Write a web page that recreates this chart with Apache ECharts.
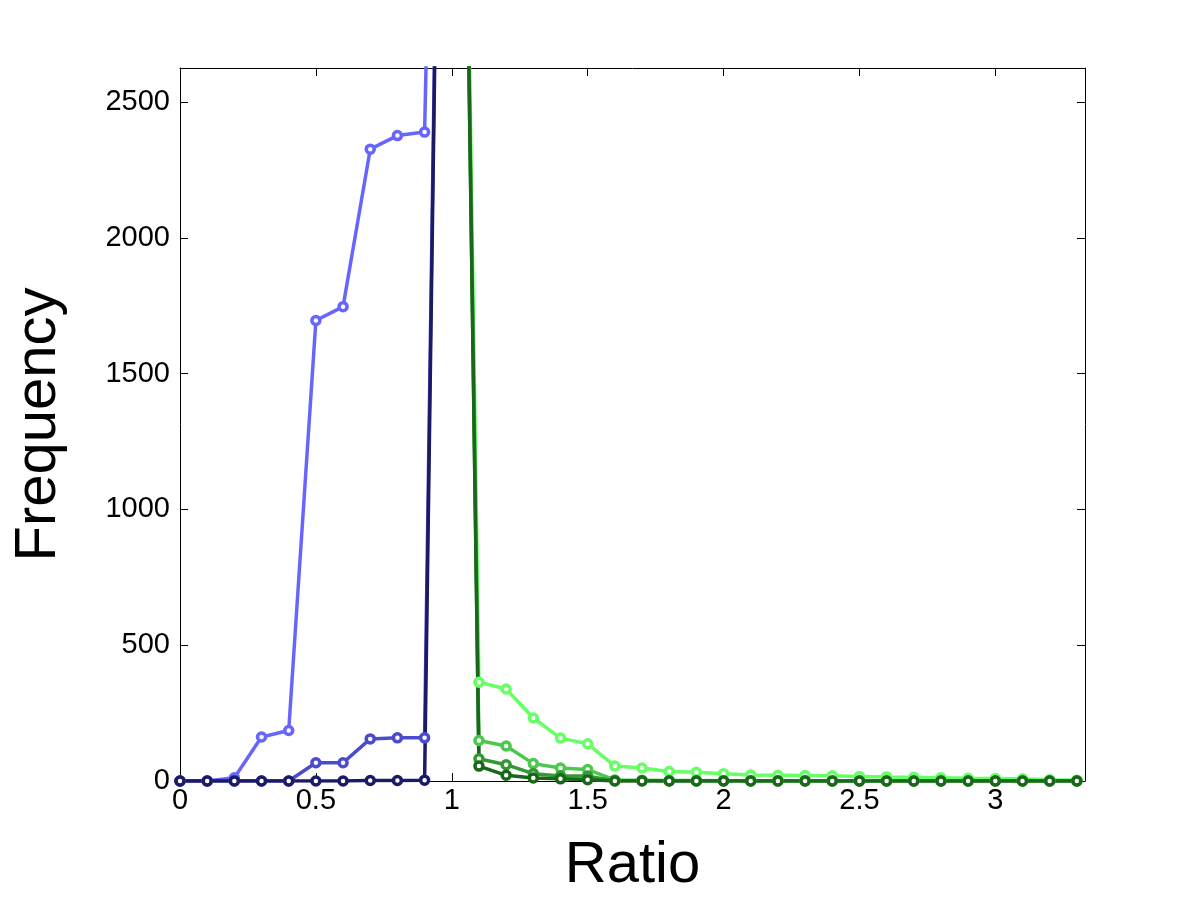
<!DOCTYPE html>
<html>
<head>
<meta charset="utf-8">
<script src="https://cdn.jsdelivr.net/npm/echarts@6/dist/echarts.min.js"></script>
<style>html,body{margin:0;padding:0;background:#fff}#c{width:1200px;height:900px}</style>
</head>
<body>
<div id="c"></div>
<script>
// Ratio bins
const ratioLeft = [0, 0.1, 0.2, 0.3, 0.4, 0.5, 0.6, 0.7, 0.8, 0.9, 1.0];
const ratioRight = [1.0, 1.1, 1.2, 1.3, 1.4, 1.5, 1.6, 1.7, 1.8, 1.9, 2.0, 2.1, 2.2, 2.3, 2.4, 2.5, 2.6, 2.7, 2.8, 2.9, 3.0, 3.1, 3.2, 3.3];

// Blue series (ratio < 1)
const blueLight = [0, 0, 12, 162, 186, 1696, 1747, 2327, 2377, 2390, 7000];
const blueMid   = [0, 0, 0, 0, 0, 67, 67, 155, 159, 159, 7050];
const blueDark  = [0, 0, 0, 0, 0, 0, 0, 2, 2, 3, 7100];

// Green series (ratio > 1)
const greenLight = [7000, 364, 339, 232, 158, 137, 55, 48, 35, 32, 27, 22, 21, 20, 19, 17, 15, 14, 12, 10, 9, 8, 5, 3];
const greenMid   = [7000, 149, 129, 64, 48, 42, 4, 3, 2, 2, 1, 1, 1, 1, 0, 0, 0, 0, 0, 0, 0, 0, 0, 0];
const greenMid2  = [7000, 82, 60, 27, 18, 18, 1, 1, 0, 0, 0, 0, 0, 0, 0, 0, 0, 0, 0, 0, 0, 0, 0, 0];
const greenDark  = [7000, 55, 21, 11, 8, 5, 0, 0, 0, 0, 0, 0, 0, 0, 0, 0, 0, 0, 0, 0, 0, 0, 0, 0];

const xTicks = [0, 0.5, 1, 1.5, 2, 2.5, 3];
const yTicks = [0, 500, 1000, 1500, 2000, 2500];

function pairs(xs, ys) { return xs.map((x, i) => [x, ys[i]]); }

function mk(name, xs, ys, color) {
  return {
    name: name,
    type: 'line',
    data: pairs(xs, ys),
    symbol: 'circle',
    symbolSize: 8,
    clip: true,
    lineStyle: { color: color, width: 3.5 },
    itemStyle: { color: '#fff', borderColor: color, borderWidth: 3.5, borderType: 'solid' },
    emphasis: { disabled: true },
    animation: false,
    z: 2
  };
}

const FONT = 'Liberation Sans, Arial, Helvetica, sans-serif';
const chart = echarts.init(document.getElementById('c'), null, { renderer: 'canvas' });

function common() {
  return {
    axisLine: { show: true, onZero: false, lineStyle: { color: '#000', width: 1 } },
    axisTick: { show: true, inside: true, length: 8, lineStyle: { color: '#000', width: 1 } },
    splitLine: { show: false }
  };
}

chart.setOption({
  animation: false,
  backgroundColor: '#fff',
  grid: { left: 180, right: 115, top: 68, bottom: 118, containLabel: false },
  xAxis: [
    Object.assign({
      type: 'value', min: 0, max: 3.33, interval: 0.5,
      name: 'Ratio', nameLocation: 'middle', nameGap: 56,
      nameTextStyle: { fontFamily: FONT, fontSize: 58, color: '#000' },
      axisLabel: { fontFamily: FONT, fontSize: 29, color: '#000', margin: 5, showMaxLabel: false,
        formatter: v => String(v) }
    }, common()),
    Object.assign({
      type: 'value', min: 0, max: 3.33, interval: 0.5, position: 'top',
      axisLabel: { show: false }
    }, common())
  ],
  yAxis: [
    Object.assign({
      type: 'value', min: 0, max: 2626, interval: 500,
      name: 'Frequency', nameLocation: 'middle', nameGap: 112,
      nameTextStyle: { fontFamily: FONT, fontSize: 58, color: '#000' },
      axisLabel: { fontFamily: FONT, fontSize: 29, color: '#000', margin: 10, showMaxLabel: false,
        formatter: v => String(v) }
    }, common()),
    Object.assign({
      type: 'value', min: 0, max: 2626, interval: 500, position: 'right',
      axisLabel: { show: false }
    }, common())
  ],
  series: [
    mk('b1', ratioLeft, blueLight, '#6666ff'),
    mk('b2', ratioLeft, blueMid, '#4b4bcc'),
    mk('b3', ratioLeft, blueDark, '#1a1a66'),
    mk('g1', ratioRight, greenLight, '#66ff66'),
    mk('g2', ratioRight, greenMid, '#4cc84c'),
    mk('g3', ratioRight, greenMid2, '#339933'),
    mk('g4', ratioRight, greenDark, '#1a661a')
  ]
});
</script>
</body>
</html>
